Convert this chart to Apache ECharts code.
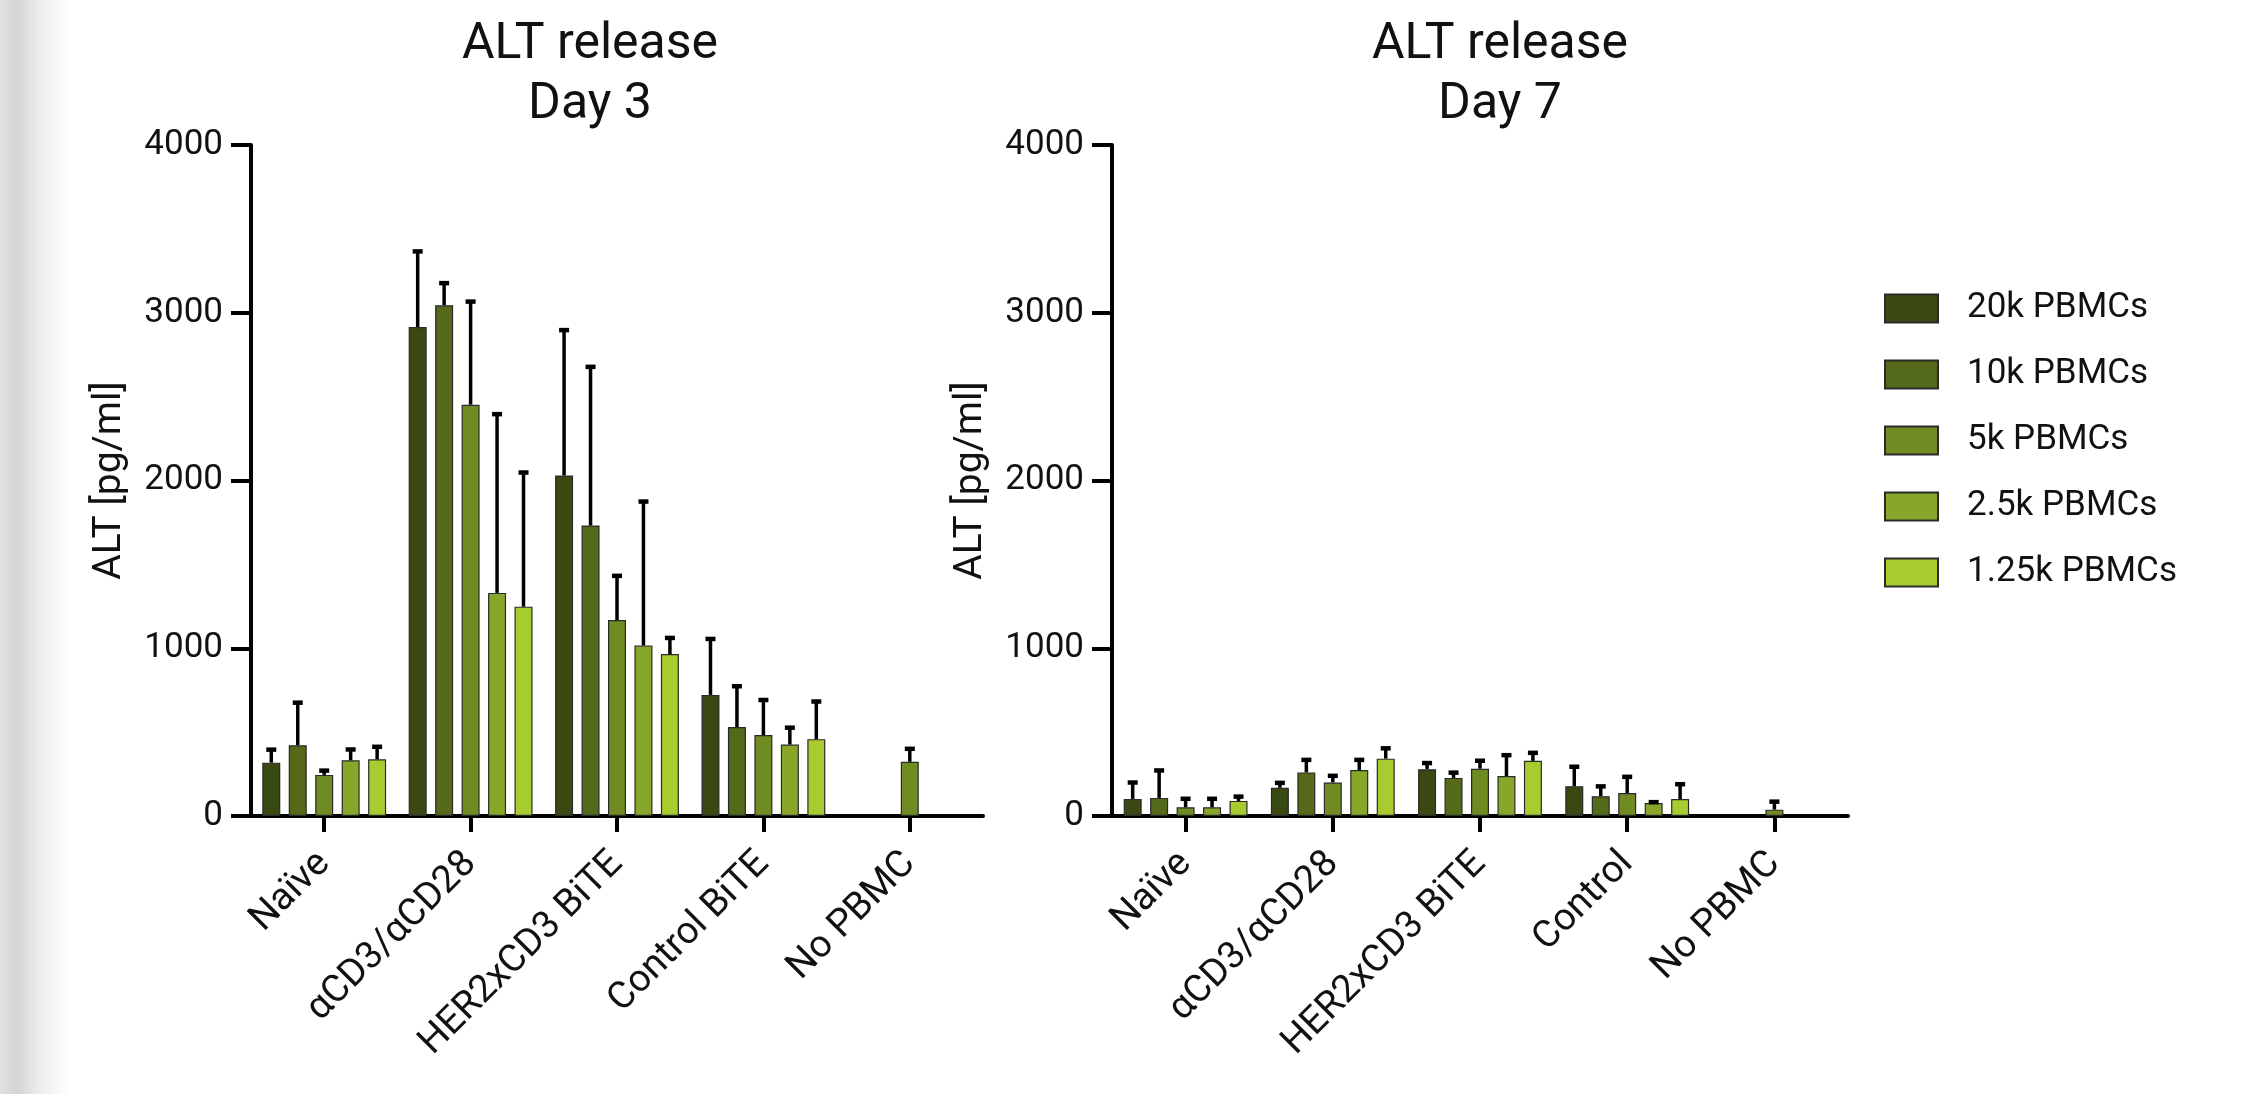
<!DOCTYPE html>
<html>
<head>
<meta charset="utf-8">
<script src="https://cdn.jsdelivr.net/npm/echarts@6/dist/echarts.min.js"></script>
<style>
html,body{margin:0;padding:0;background:#fff;}
#chart{width:2258px;height:1094px;}
</style>
</head>
<body>
<div id="chart"></div>
<script>
// ---- data ----
const seriesNames = ['20k PBMCs', '10k PBMCs', '5k PBMCs', '2.5k PBMCs', '1.25k PBMCs'];
const seriesColors = ['#3a4811', '#55691a', '#6f8b22', '#88a72a', '#a8cc30'];

const day3Categories = ['Naïve', 'αCD3/αCD28', 'HER2xCD3 BiTE', 'Control BiTE', 'No PBMC'];
const day7Categories = ['Naïve', 'αCD3/αCD28', 'HER2xCD3 BiTE', 'Control', 'No PBMC'];
const yTicks = [0, 1000, 2000, 3000, 4000];

// Day 3 means (per series) and upper error ends
const day3_20k   = [318, 2915, 2030, 722, null];
const day3_10k   = [422, 3045, 1732, 530, null];
const day3_5k    = [245, 2452, 1168, 483, 323];
const day3_2_5k  = [332, 1330, 1017, 426, null];
const day3_1_25k = [338, 1248, 965, 458, null];
const day3_20k_err   = [403, 3373, 2904, 1063, null];
const day3_10k_err   = [683, 3184, 2685, 781, null];
const day3_5k_err    = [278, 3074, 1439, 699, 408];
const day3_2_5k_err  = [404, 2403, 1882, 534, null];
const day3_1_25k_err = [420, 2055, 1069, 690, null];

// Day 7
const day7_20k   = [102, 168, 279, 178, null];
const day7_10k   = [108, 260, 227, 118, null];
const day7_5k    = [52, 200, 282, 137, 38];
const day7_2_5k  = [52, 274, 238, 77, null];
const day7_1_25k = [90, 342, 329, 101, null];
const day7_20k_err   = [207, 205, 323, 301, null];
const day7_10k_err   = [279, 342, 266, 184, null];
const day7_5k_err    = [110, 247, 337, 241, 93];
const day7_2_5k_err  = [110, 342, 370, 90, null];
const day7_1_25k_err = [123, 411, 384, 197, null];

const day3Means = [day3_20k, day3_10k, day3_5k, day3_2_5k, day3_1_25k];
const day3Errs  = [day3_20k_err, day3_10k_err, day3_5k_err, day3_2_5k_err, day3_1_25k_err];
const day7Means = [day7_20k, day7_10k, day7_5k, day7_2_5k, day7_1_25k];
const day7Errs  = [day7_20k_err, day7_10k_err, day7_5k_err, day7_2_5k_err, day7_1_25k_err];

// ---- layout / style ----
const FONT = 'Roboto';
const BAR_W = 18;
const BAR_GAP_PCT = 47;
const STEP = BAR_W * (1 + BAR_GAP_PCT / 100);

function makeAxes(gridIndex, cats) {
  const x = {
    type: 'category', gridIndex, data: cats,
    axisLine: {show: true, lineStyle: {color: '#000', width: 4}},
    axisTick: {show: true, alignWithLabel: true, length: 16, lineStyle: {color: '#000', width: 4}},
    axisLabel: {rotate: 45, margin: 42, fontSize: 38, color: '#111', fontFamily: FONT, interval: 0}
  };
  const y = {
    type: 'value', gridIndex, min: 0, max: 4000, interval: 1000,
    name: 'ALT [pg/ml]', nameLocation: 'middle', nameGap: 121,
    nameTextStyle: {fontSize: 39, color: '#111', fontFamily: FONT},
    splitLine: {show: false},
    axisLine: {show: true, lineStyle: {color: '#000', width: 4}},
    axisTick: {show: true, length: 20, lineStyle: {color: '#000', width: 4}},
    axisLabel: {margin: 28, fontSize: 35, color: '#111', fontFamily: FONT,
      formatter: v => yTicks.indexOf(v) >= 0 ? String(v) : ''}
  };
  return [x, y];
}

function barSeries(idx, means) {
  return means.map((arr, k) => ({
    type: 'bar', name: seriesNames[k], xAxisIndex: idx, yAxisIndex: idx,
    data: arr.map(v => v === null ? '-' : v),
    barWidth: BAR_W, barGap: BAR_GAP_PCT + '%',
    itemStyle: {color: seriesColors[k], borderColor: '#2a2a2a', borderWidth: 1.2},
    emphasis: {disabled: true}, z: 2
  }));
}

function errSeries(idx, means, errs) {
  return means.map((arr, k) => ({
    type: 'custom', name: seriesNames[k], xAxisIndex: idx, yAxisIndex: idx, z: 3,
    silent: true,
    data: arr.map((v, i) => v === null ? null : [i, v, errs[k][i]]).filter(d => d),
    renderItem: function (params, api) {
      const top = api.coord([api.value(0), api.value(2)]);
      const base = api.coord([api.value(0), api.value(1)]);
      const x = top[0] + (k - 2) * STEP;
      return {
        type: 'group',
        children: [
          {type: 'line', shape: {x1: x, y1: base[1], x2: x, y2: top[1] + 1}, style: {stroke: '#000', lineWidth: 3.5}},
          {type: 'rect', shape: {x: x - 5, y: top[1] - 1, width: 10, height: 4.5}, style: {fill: '#000'}}
        ]
      };
    }
  }));
}

const [x0, y0] = makeAxes(0, day3Categories);
const [x1, y1] = makeAxes(1, day7Categories);

const chart = echarts.init(document.getElementById('chart'), null, {renderer: 'canvas'});
chart.setOption({
  backgroundColor: '#ffffff',
  animation: false,
  grid: [
    {left: 251, width: 732, top: 145, height: 671},
    {left: 1112, width: 736, top: 145, height: 671}
  ],
  xAxis: [x0, x1],
  yAxis: [y0, y1],
  legend: {
    orient: 'vertical', left: 1879, top: 286,
    itemWidth: 53, itemHeight: 28, itemGap: 31,
    icon: 'rect',
    data: seriesNames,
    textStyle: {fontSize: 35, color: '#111', fontFamily: FONT, padding: [0, 0, 0, 24]}
  },
  graphic: [
    {type: 'rect', left: 0, top: 0, z: -10, shape: {width: 70, height: 1094},
      style: {fill: new echarts.graphic.LinearGradient(0, 0, 1, 0, [
        {offset: 0, color: '#e2e2e2'}, {offset: 0.25, color: '#d4d4d4'},
        {offset: 0.55, color: '#ececec'}, {offset: 1, color: '#ffffff'}])}},
    {type: 'text', x: 590, y: 75, style: {text: 'ALT release\nDay 3', textAlign: 'center', textVerticalAlign: 'middle',
      fontSize: 50, lineHeight: 60, fontFamily: FONT, fill: '#111'}},
    {type: 'text', x: 1500, y: 75, style: {text: 'ALT release\nDay 7', textAlign: 'center', textVerticalAlign: 'middle',
      fontSize: 50, lineHeight: 60, fontFamily: FONT, fill: '#111'}}
  ],
  series: [
    ...barSeries(0, day3Means), ...errSeries(0, day3Means, day3Errs),
    ...barSeries(1, day7Means), ...errSeries(1, day7Means, day7Errs)
  ]
});
</script>
</body>
</html>
